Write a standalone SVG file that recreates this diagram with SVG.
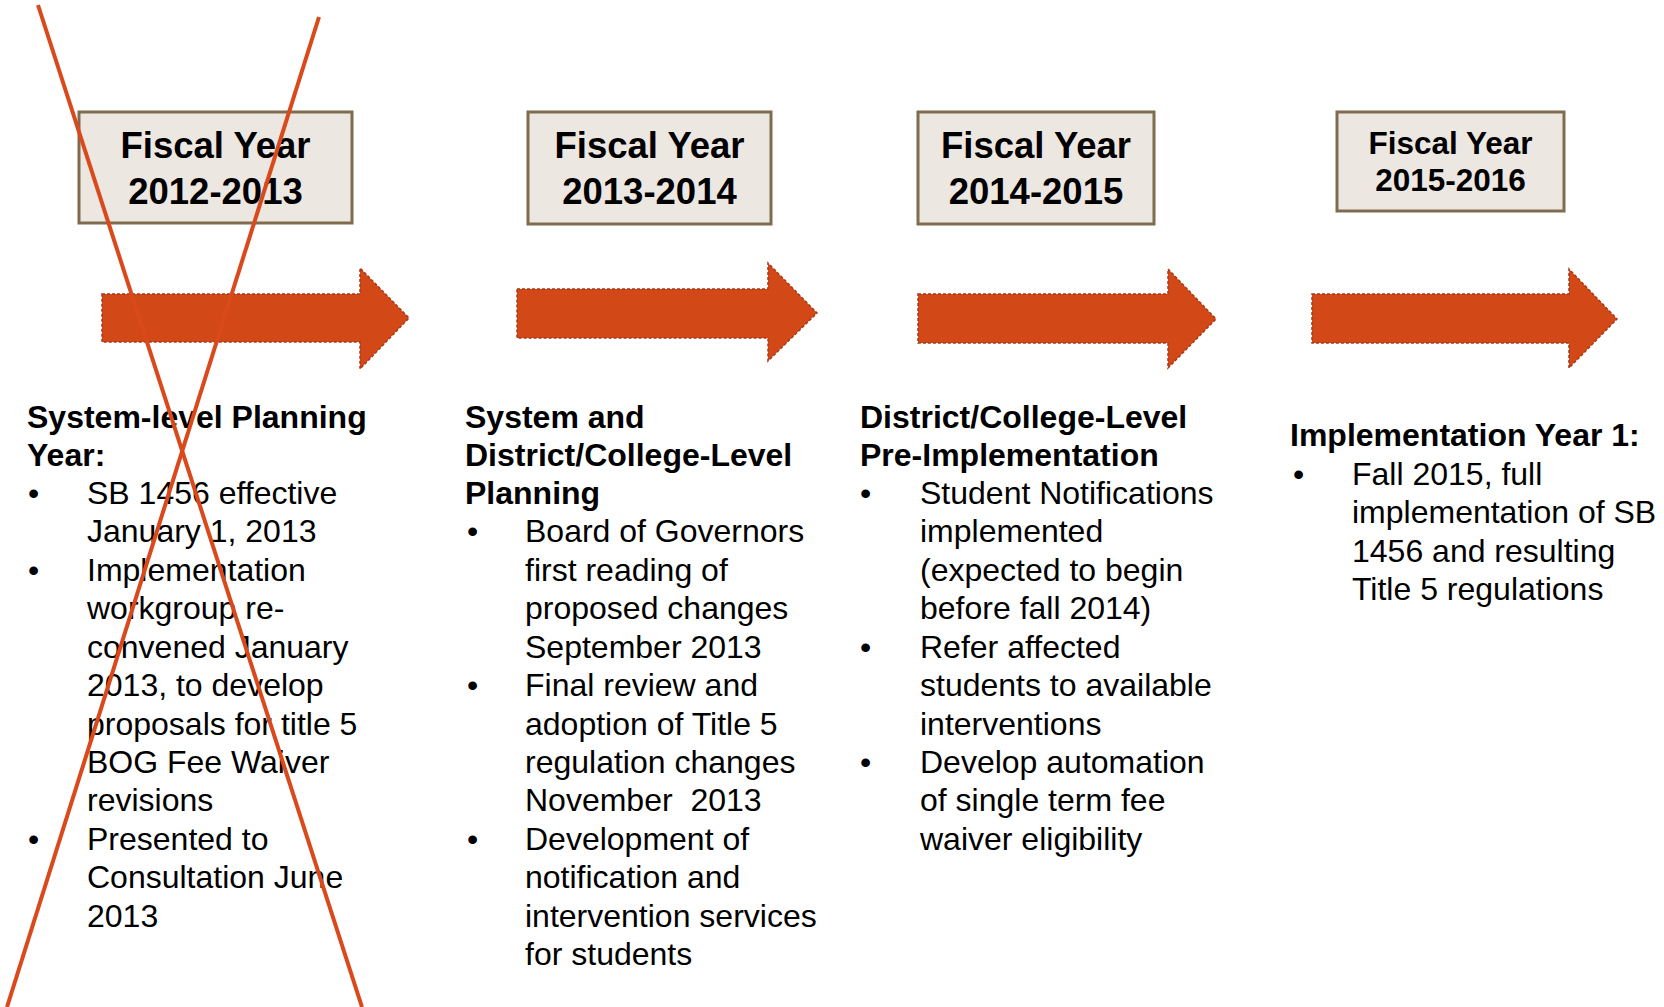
<svg xmlns="http://www.w3.org/2000/svg" width="1664" height="1007" viewBox="0 0 1664 1007">
<style>
.box{fill:#ECE7E1;stroke:#7F6C4F;stroke-width:3}
.bt{font-family:"Liberation Sans",Arial,sans-serif;font-weight:bold;font-size:36.5px;fill:#000;text-anchor:middle}
.bt4{font-family:"Liberation Sans",Arial,sans-serif;font-weight:bold;font-size:31.5px;fill:#000;text-anchor:middle}
.arr{fill:#D24917;stroke:#A8391A;stroke-width:1.5;stroke-dasharray:3 2}
.h{font-family:"Liberation Sans",Arial,sans-serif;font-weight:bold;font-size:32px;fill:#000}
.t{font-family:"Liberation Sans",Arial,sans-serif;font-size:32px;fill:#000}
.x{stroke:#D9491C;stroke-width:4;fill:none}
</style>
<rect width="1664" height="1007" fill="#fff"/>
<g id="fy2012">
<rect class="box" x="79" y="112" width="273" height="111"/>
<text class="bt" x="215.5" y="158">Fiscal Year</text>
<text class="bt" x="215.5" y="204">2012-2013</text>
</g>
<g id="fy2013">
<rect class="box" x="528" y="112" width="243" height="112"/>
<text class="bt" x="649.5" y="158">Fiscal Year</text>
<text class="bt" x="649.5" y="204">2013-2014</text>
</g>
<g id="fy2014">
<rect class="box" x="918" y="112" width="236" height="112"/>
<text class="bt" x="1036" y="158">Fiscal Year</text>
<text class="bt" x="1036" y="204">2014-2015</text>
</g>
<g id="fy2015">
<rect class="box" x="1337" y="112" width="227" height="99"/>
<text class="bt4" x="1450.5" y="154">Fiscal Year</text>
<text class="bt4" x="1450.5" y="191">2015-2016</text>
</g>
<g id="connectors">
<path class="arr" d="M102,294 H360 V268 L409,318 L360,369 V342 H102 Z"/>
<path class="arr" d="M517,289 H768 V263 L817,313 L768,361 V338 H517 Z"/>
<path class="arr" d="M918,294 H1168 V269 L1216,319 L1168,368 V343 H918 Z"/>
<path class="arr" d="M1312,294 H1569 V269 L1617,319 L1569,368 V343 H1312 Z"/>
</g>
<g id="col1">
<text class="h" x="27" y="427.5">System-level Planning</text>
<text class="h" x="27" y="466">Year:</text>
<text class="t" x="28" y="504">•</text>
<text class="t" x="87" y="504">SB 1456 effective</text>
<text class="t" x="87" y="542">January 1, 2013</text>
<text class="t" x="28" y="581">•</text>
<text class="t" x="87" y="581">Implementation</text>
<text class="t" x="87" y="619">workgroup re-</text>
<text class="t" x="87" y="658">convened January</text>
<text class="t" x="87" y="696">2013, to develop</text>
<text class="t" x="87" y="735">proposals for title 5</text>
<text class="t" x="87" y="773">BOG Fee Waiver</text>
<text class="t" x="87" y="811">revisions</text>
<text class="t" x="28" y="850">•</text>
<text class="t" x="87" y="850">Presented to</text>
<text class="t" x="87" y="888">Consultation June</text>
<text class="t" x="87" y="927">2013</text>
</g>
<g id="col2">
<text class="h" x="465" y="427.5">System and</text>
<text class="h" x="465" y="466">District/College-Level</text>
<text class="h" x="465" y="504">Planning</text>
<text class="t" x="467" y="542">•</text>
<text class="t" x="525" y="542">Board of Governors</text>
<text class="t" x="525" y="581">first reading of</text>
<text class="t" x="525" y="619">proposed changes</text>
<text class="t" x="525" y="658">September 2013</text>
<text class="t" x="467" y="696">•</text>
<text class="t" x="525" y="696">Final review and</text>
<text class="t" x="525" y="735">adoption of Title 5</text>
<text class="t" x="525" y="773">regulation changes</text>
<text class="t" x="525" y="811" xml:space="preserve">November  2013</text>
<text class="t" x="467" y="850">•</text>
<text class="t" x="525" y="850">Development of</text>
<text class="t" x="525" y="888">notification and</text>
<text class="t" x="525" y="927">intervention services</text>
<text class="t" x="525" y="965">for students</text>
</g>
<g id="col3">
<text class="h" x="860" y="427.5">District/College-Level</text>
<text class="h" x="860" y="466">Pre-Implementation</text>
<text class="t" x="860" y="504">•</text>
<text class="t" x="920" y="504">Student Notifications</text>
<text class="t" x="920" y="542">implemented</text>
<text class="t" x="920" y="581">(expected to begin</text>
<text class="t" x="920" y="619">before fall 2014)</text>
<text class="t" x="860" y="658">•</text>
<text class="t" x="920" y="658">Refer affected</text>
<text class="t" x="920" y="696">students to available</text>
<text class="t" x="920" y="735">interventions</text>
<text class="t" x="860" y="773">•</text>
<text class="t" x="920" y="773">Develop automation</text>
<text class="t" x="920" y="811">of single term fee</text>
<text class="t" x="920" y="850">waiver eligibility</text>
</g>
<g id="col4">
<text class="h" x="1290" y="446">Implementation Year 1:</text>
<text class="t" x="1293" y="484.5">•</text>
<text class="t" x="1352" y="484.5">Fall 2015, full</text>
<text class="t" x="1352" y="523">implementation of SB</text>
<text class="t" x="1352" y="561.5">1456 and resulting</text>
<text class="t" x="1352" y="600">Title 5 regulations</text>
</g>
<g id="strike">
<line class="x" x1="38" y1="5" x2="362" y2="1007"/>
<line class="x" x1="319" y1="17" x2="7" y2="1007"/>
</g>
</svg>
